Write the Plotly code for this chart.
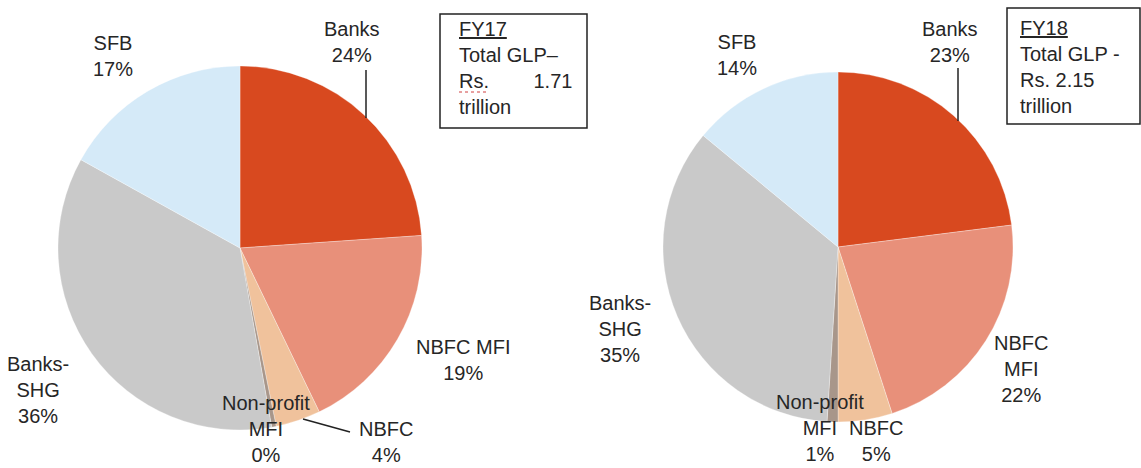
import plotly.graph_objects as go

# Gross loan portfolio share by lender type, FY17 and FY18
segments = ["Banks", "NBFC MFI", "NBFC", "Non-profit MFI", "Banks-SHG", "SFB"]
fy17_share = [24, 19, 4, 0.4, 36, 17]
fy18_share = [23, 22, 5, 1, 35, 14]
totals_trn = {"FY17": 1.71, "FY18": 2.15}

# label text as it is wrapped on each chart
fy17_labels = ["Banks", "NBFC MFI", "NBFC", "Non-profit<br>MFI", "Banks-<br>SHG", "SFB"]
fy18_labels = ["Banks", "NBFC<br>MFI", "NBFC", "Non-profit<br>MFI", "Banks-<br>SHG", "SFB"]

colors = ["#D8491F", "#E8907A", "#F0C29C", "#A8968A", "#C9C9C9", "#D5EAF8"]

W, H = 1141, 468


def px(x):
    return x / W


def py(y):
    return 1 - y / H


fig = go.Figure()

# pie placement (pixel centre and radius)
pies = [
    (fy17_share, 240, 248, 182),
    (fy18_share, 838, 247, 175),
]
for vals, cx, cy, r in pies:
    fig.add_trace(go.Pie(
        labels=segments,
        values=vals,
        sort=False,
        direction="clockwise",
        rotation=0,
        textinfo="none",
        hoverinfo="label+percent",
        marker=dict(colors=colors, line=dict(color="rgba(255,255,255,0.6)", width=0.5)),
        domain=dict(x=[px(cx - r), px(cx + r)], y=[py(cy + r), py(cy - r)]),
        showlegend=False,
    ))

# label anchor positions (pixel centres) per chart
fy17_pos = [(352, 42), (463, 360), (386, 442), (266, 429), (38, 390), (113, 56)]
fy18_pos = [(950, 42), (1021, 369), (876, 441), (820, 428), (620, 329), (737, 55)]

font = dict(family="Liberation Sans, Arial, sans-serif", size=20, color="#262626")


def pct_text(vals):
    tot = sum(vals)
    return [f"{round(v / tot * 100)}%" for v in vals]


annotations = []
for labels, vals, pos in [(fy17_labels, fy17_share, fy17_pos), (fy18_labels, fy18_share, fy18_pos)]:
    for lab, pct, (x, y) in zip(labels, pct_text(vals), pos):
        annotations.append(dict(
            x=px(x), y=py(y), xref="paper", yref="paper",
            text=f"{lab}<br>{pct}", showarrow=False,
            xanchor="center", yanchor="middle", align="center", font=font,
        ))

# total GLP text boxes
annotations.append(dict(
    x=px(457), y=py(16), xref="paper", yref="paper", xanchor="left", yanchor="top",
    align="left", showarrow=False, font=font,
    text=f"<u>FY17</u><br>Total GLP–<br>Rs.&nbsp;&nbsp;&nbsp;&nbsp;&nbsp;&nbsp;&nbsp;&nbsp;{totals_trn['FY17']:.2f}<br>trillion",
))
annotations.append(dict(
    x=px(1018), y=py(15), xref="paper", yref="paper", xanchor="left", yanchor="top",
    align="left", showarrow=False, font=font,
    text=f"<u>FY18</u><br>Total GLP -<br>Rs. {totals_trn['FY18']:.2f}<br>trillion",
))

shapes = [
    dict(type="rect", xref="paper", yref="paper", x0=px(440), x1=px(587), y0=py(128), y1=py(14),
         line=dict(color="#222", width=1.5), fillcolor="rgba(0,0,0,0)"),
    dict(type="rect", xref="paper", yref="paper", x0=px(1007), x1=px(1140), y0=py(124), y1=py(8),
         line=dict(color="#222", width=1.5), fillcolor="rgba(0,0,0,0)"),
    # spell-check squiggle under "Rs."
    dict(type="line", xref="paper", yref="paper", x0=px(459), x1=px(489), y0=py(92), y1=py(92),
         line=dict(color="#D04040", width=1, dash="dot")),
    # leader lines
    dict(type="line", xref="paper", yref="paper", x0=px(366), x1=px(366), y0=py(70), y1=py(118),
         line=dict(color="#222", width=1.5)),
    dict(type="line", xref="paper", yref="paper", x0=px(958), x1=px(958), y0=py(68), y1=py(121),
         line=dict(color="#222", width=1.5)),
    dict(type="line", xref="paper", yref="paper", x0=px(303), x1=px(350), y0=py(419), y1=py(432),
         line=dict(color="#222", width=1.5)),
]

fig.update_layout(
    width=W, height=H,
    margin=dict(l=0, r=0, t=0, b=0),
    paper_bgcolor="white", plot_bgcolor="white",
    annotations=annotations, shapes=shapes,
    font=font,
)

fig.write_html("out.html")
